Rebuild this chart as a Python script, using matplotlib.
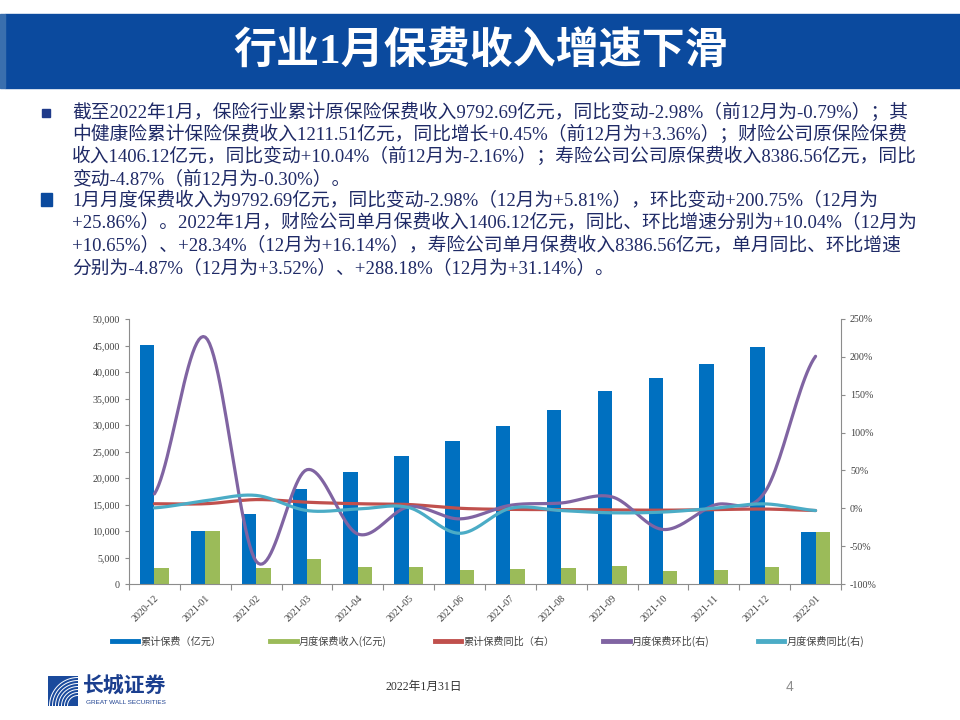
"""Industry premium income chart: cumulative / monthly premium with growth rates."""

from __future__ import annotations

import matplotlib

matplotlib.use("Agg")

import matplotlib.pyplot as plt
import numpy as np
from matplotlib.lines import Line2D
from matplotlib.patches import Rectangle
from matplotlib.ticker import FuncFormatter

CJK = ["Noto Sans CJK SC", "DejaVu Sans"]
SERIF_CJK = ["Liberation Serif", "Noto Sans CJK SC", "DejaVu Sans"]

months = [
    "2020-12", "2021-01", "2021-02", "2021-03", "2021-04", "2021-05", "2021-06",
    "2021-07", "2021-08", "2021-09", "2021-10", "2021-11", "2021-12", "2022-01",
]
cum_premium = [45100, 10080, 13150, 17900, 21080, 24230, 26980,
               29850, 32900, 36400, 38930, 41500, 44800, 9793]
month_premium = [3000, 10080, 3100, 4700, 3150, 3150, 2700,
                 2850, 3000, 3450, 2500, 2650, 3200, 9793]
cum_yoy = [6.0, 6.0, 11.5, 8.0, 6.0, 5.0, 0.0,
           -1.5, -1.7, -2.2, -2.5, -1.8, -1.0, -2.98]
month_mom = [19, 226, -70, 51, -34, 2, -14,
             4, 7, 15, -28, 4, 21, 200.75]
month_yoy = [0.5, 10, 17, -3, -1, 1, -33,
             0, -3, -6, -5, 0, 5.81, -2.98]

series_labels = ["累计保费（亿元）", "月度保费收入(亿元)", "累计保费同比（右）",
                 "月度保费环比(右)", "月度保费同比(右)"]
series_colors = ["#0070C0", "#9BBB59", "#C0504D", "#8064A2", "#4BACC6"]

title = "行业1月保费收入增速下滑"
para1 = [
    "截至2022年1月，保险行业累计原保险保费收入9792.69亿元，同比变动-2.98%（前12月为-0.79%）；其",
    "中健康险累计保险保费收入1211.51亿元，同比增长+0.45%（前12月为+3.36%）；财险公司原保险保费",
    "收入1406.12亿元，同比变动+10.04%（前12月为-2.16%）；寿险公司公司原保费收入8386.56亿元，同比",
    "变动-4.87%（前12月为-0.30%）。",
]
para2 = [
    "1月月度保费收入为9792.69亿元，同比变动-2.98%（12月为+5.81%），环比变动+200.75%（12月为",
    "+25.86%）。2022年1月，财险公司单月保费收入1406.12亿元，同比、环比增速分别为+10.04%（12月为",
    "+10.65%）、+28.34%（12月为+16.14%），寿险公司单月保费收入8386.56亿元，单月同比、环比增速",
    "分别为-4.87%（12月为+3.52%）、+288.18%（12月为+31.14%）。",
]

W, H = 960, 720
TEXT_COLOR = "#1f2a66"


def fx(px: float) -> float:
    return px / W


def fy(py: float) -> float:
    return 1 - py / H


def smooth(values, n: int = 24):
    """Catmull-Rom smoothing similar to Excel's smoothed line."""
    y = np.asarray(values, dtype=float)
    p = np.concatenate([[y[0]], y, [y[-1]]])
    xs, ys = [], []
    t = np.linspace(0, 1, n, endpoint=False)
    for i in range(len(y) - 1):
        p0, p1, p2, p3 = p[i], p[i + 1], p[i + 2], p[i + 3]
        seg = 0.5 * (2 * p1 + (-p0 + p2) * t + (2 * p0 - 5 * p1 + 4 * p2 - p3) * t ** 2
                     + (-p0 + 3 * p1 - 3 * p2 + p3) * t ** 3)
        xs.append(i + t)
        ys.append(seg)
    xs.append([len(y) - 1])
    ys.append([y[-1]])
    return np.concatenate(xs), np.concatenate(ys)


def draw_header(fig) -> None:
    fig.patches.append(Rectangle((fx(5), fy(88)), 1 - fx(5), fy(14) - fy(88),
                                 transform=fig.transFigure, color="#0b4a9e", zorder=0))
    fig.patches.append(Rectangle((0, fy(88)), fx(5), fy(14) - fy(88),
                                 transform=fig.transFigure, color="#3a6fae", zorder=0))
    fig.text(fx(481), fy(51), title, color="white", fontsize=31, fontweight="bold",
             family=SERIF_CJK, ha="center", va="center")

    fig.patches.append(Rectangle((fx(42), fy(117)), fx(8), fy(109) - fy(117),
                                 transform=fig.transFigure, color="#1f3a8a"))
    fig.patches.append(Rectangle((fx(41), fy(206)), fx(11), fy(193) - fy(206),
                                 transform=fig.transFigure, color="#0b4a9e"))
    y0 = 112
    for i, line in enumerate(para1 + para2):
        fig.text(fx(72), fy(y0 + i * 22.3), line, color=TEXT_COLOR, fontsize=13.5,
                 family=SERIF_CJK, ha="left", va="center")


def draw_footer(fig) -> None:
    logo = fig.add_axes([fx(48), fy(706), fx(30), fy(676) - fy(706)])
    logo.set_xlim(0, 1)
    logo.set_ylim(0, 1)
    logo.axis("off")
    logo.add_patch(Rectangle((0, 0), 1, 1, color="#1a4a9c", zorder=0))
    for k in range(7):
        r = 0.35 + k * 0.1
        ang = np.linspace(np.pi * 0.5, np.pi * 1.0, 30)
        logo.plot(1.0 + r * np.cos(ang), 0.0 + r * np.sin(ang), color="white", lw=0.7,
                  zorder=1, clip_on=True)
    fig.text(fx(83), fy(686), "长城证券", color="#1b3f8f", fontsize=15, fontweight="bold",
             family=CJK, ha="left", va="center")
    fig.text(fx(86), fy(702), "GREAT WALL SECURITIES", color="#1b3f8f", fontsize=4.6,
             family=["Liberation Sans"], ha="left", va="center")
    fig.text(fx(424), fy(687), "2022年1月31日", color="#333333", fontsize=8.5,
             family=SERIF_CJK, ha="center", va="center")
    fig.text(fx(790), fy(687), "4", color="#8c8c8c", fontsize=10,
             family=["Liberation Sans"], ha="center", va="center")


def draw_chart(fig) -> None:
    ax = fig.add_axes([fx(129), fy(584), fx(841) - fx(129), fy(319) - fy(584)])
    ax2 = ax.twinx()
    x = np.arange(len(months))
    w = 0.285
    ax.bar(x - w / 2, cum_premium, width=w, color=series_colors[0], zorder=2)
    ax.bar(x + w / 2, month_premium, width=w, color=series_colors[1], zorder=2)

    for vals, col in zip([cum_yoy, month_mom, month_yoy], series_colors[2:]):
        sx, sy = smooth(vals)
        ax2.plot(sx, sy, color=col, lw=2.3, solid_capstyle="round")

    ax.set_xlim(-0.5, len(months) - 0.5)
    ax.set_ylim(0, 50000)
    ax.set_yticks(np.arange(0, 50001, 5000))
    ax.yaxis.set_major_formatter(FuncFormatter(lambda v, _: f"{int(v):,}"))
    ax2.set_ylim(-100, 250)
    ax2.set_yticks(np.arange(-100, 251, 50))
    ax2.yaxis.set_major_formatter(FuncFormatter(lambda v, _: f"{int(v)}%"))

    ax.set_xticks(np.arange(len(months) + 1) - 0.5)
    ax.set_xticklabels([])
    ax.set_xticks(x, minor=True)
    ax.set_xticklabels(months, minor=True, rotation=45, ha="right", va="top",
                       rotation_mode="anchor")
    ax.tick_params(axis="x", which="minor", length=0, pad=7, labelsize=7.2,
                   labelcolor="#404040")
    ax.tick_params(axis="x", which="major", length=4, color="#8c8c8c", direction="out")
    ax.tick_params(axis="y", length=3, color="#8c8c8c", labelsize=7.2, labelcolor="#404040")
    ax2.tick_params(axis="y", length=3, color="#8c8c8c", labelsize=7.2, labelcolor="#404040")
    for lab in ax.get_xticklabels(minor=True) + ax.get_yticklabels() + ax2.get_yticklabels():
        lab.set_family(["Liberation Serif"])

    for a in (ax, ax2):
        a.spines["top"].set_visible(False)
        for s in ("left", "right", "bottom"):
            a.spines[s].set_color("#8c8c8c")
            a.spines[s].set_linewidth(0.8)
    ax.spines["right"].set_visible(False)
    ax2.spines["left"].set_visible(False)
    ax2.spines["bottom"].set_visible(False)
    ax.set_facecolor("none")

    handles = [Line2D([], [], color=c, lw=3.5) for c in series_colors]
    leg = fig.legend(handles, series_labels, ncol=5, loc="center",
                     bbox_to_anchor=(fx(488), fy(641)), frameon=False,
                     prop={"family": CJK, "size": 7.3}, handlelength=2.6,
                     handletextpad=0.2, columnspacing=4.8)
    for t in leg.get_texts():
        t.set_color("#404040")


def main() -> None:
    fig = plt.figure(figsize=(W / 100, H / 100), dpi=100)
    fig.patch.set_facecolor("white")
    draw_header(fig)
    draw_chart(fig)
    draw_footer(fig)
    fig.savefig("out.png", dpi=100)
    plt.close(fig)


if __name__ == "__main__":
    main()
